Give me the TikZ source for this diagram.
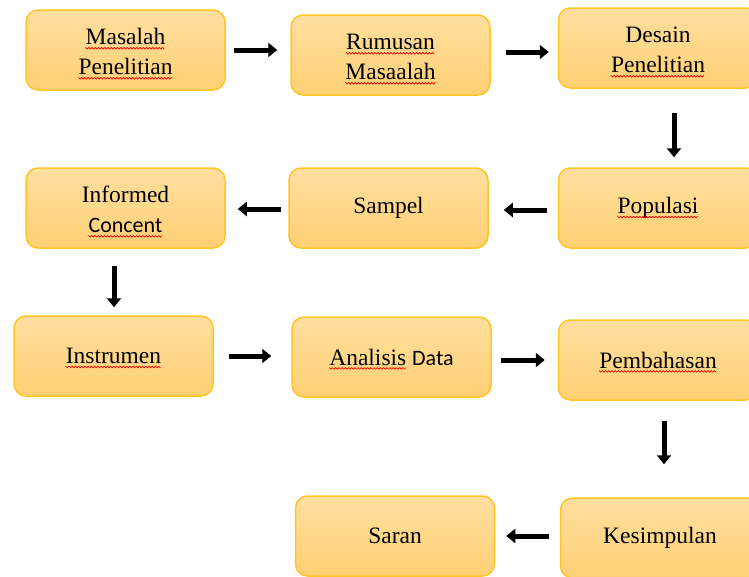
\documentclass[tikz,border=0pt]{standalone}
\usepackage{fontspec}
\setmainfont{Liberation Serif}
\newfontfamily\calib{Carlito}
\usetikzlibrary{arrows.meta}
\newdimen\wvw
\newcommand\wv[1]{%
  \setbox0=\hbox{#1}\wvw=\wd0 \leavevmode\rlap{\copy0}%
  \begin{pgfpicture}%
    \pgfpathrectangle{\pgfpointorigin}{\pgfpoint{\wvw}{0pt}}%
    \pgfusepath{use as bounding box}%
    \pgfsetbaseline{0pt}%
    \pgfsetcolor{red}\pgfsetlinewidth{0.7pt}\pgfsetroundcap
    \pgfmathtruncatemacro\wvn{\wvw/1.6}%
    \foreach \i in {1,...,\wvn}{%
      \pgfmathsetmacro\ya{mod(\i,2)==0 ? -2.6 : -4.2}%
      \pgfmathsetmacro\yb{mod(\i,2)==0 ? -4.2 : -2.6}%
      \pgfpathmoveto{\pgfpoint{(\i-1)*1.6pt}{\yb pt}}%
      \pgfpathlineto{\pgfpoint{\i*1.6pt}{\ya pt}}%
      \pgfusepath{stroke}}%
  \end{pgfpicture}}
\newcommand\tl{\rule{0pt}{20pt}}
\newcommand\calibtxt[1]{{\calib\fontsize{22}{30}\selectfont #1}}
\definecolor{boxtop}{HTML}{FFDF9F}
\definecolor{boxbot}{HTML}{FFD074}
\definecolor{boxline}{HTML}{FFC425}
\tikzset{
  box/.style={rectangle, rounded corners=12pt, draw=boxline, line width=1.5pt,
    top color=boxtop, bottom color=boxbot, minimum width=199pt, minimum height=80pt,
    align=center, font=\fontsize{23.5}{30}\selectfont, inner sep=0pt},
  arr/.style={line width=5pt, -{Triangle[length=9pt,width=14pt]}}
}
\begin{document}
\begin{tikzpicture}[x=1pt,y=-1pt]
\useasboundingbox (0,0) rectangle (749,576);
\clip (0,0) rectangle (749,576);
\node[box] (m1) at (125.5,50) {\tl\wv{Masalah}\\\wv{Penelitian}};
\node[box] (m2) at (390.5,55) {\tl\wv{Rumusan}\\\wv{Masaalah}};
\node[box] (m3) at (658,48) {\tl Desain\\\wv{Penelitian}};
\node[box] (pop) at (658,208) {\wv{Populasi}};
\node[box] (samp) at (388.5,208) {Sampel};
\node[box] (inf) at (125.5,208) {\tl Informed\\\calibtxt{\wv{Concent}}};
\node[box] (ins) at (113.5,356) {\wv{Instrumen}};
\node[box] (ana) at (391.5,357) {\wv{Analisis} \calibtxt{Data}};
\node[box] (pem) at (658,360) {\wv{Pembahasan}};
\node[box] (kes) at (660,538) {Kesimpulan};
\node[box] (sar) at (395,536) {Saran};
\draw[arr] ([xshift=8pt]m1.east) -- ([xshift=-13pt]m1.east -| m2.west);
\draw[arr] ([xshift=15pt,yshift=3pt]m2.east) -- ([xshift=-9pt,yshift=3pt]m2.east -| m3.west);
\draw[arr] ([xshift=16pt,yshift=-24pt]m3.south) -- ([xshift=16pt,yshift=10pt]pop.north);
\draw[arr] ([xshift=-11pt,yshift=-2pt]pop.west) -- ([xshift=15pt,yshift=-2pt]pop.west -| samp.east);
\draw[arr] ([xshift=-7pt,yshift=-1pt]samp.west) -- ([xshift=12pt,yshift=-1pt]samp.west -| inf.east);
\draw[arr] ([xshift=-11.5pt,yshift=-17pt]inf.south) -- ([xshift=0.5pt,yshift=8pt]ins.north);
\draw[arr] ([xshift=15pt]ins.east) -- ([xshift=-20pt]ins.east -| ana.west);
\draw[arr] ([xshift=9pt,yshift=-3pt]ana.east) -- ([xshift=-13pt,yshift=-3pt]ana.east -| pem.west);
\draw[arr] ([xshift=6pt,yshift=-20pt]pem.south) -- ([xshift=4pt,yshift=33pt]kes.north);
\draw[arr] ([xshift=-11pt]sar.east -| kes.west) -- ([xshift=11pt]sar.east);
\end{tikzpicture}
\end{document}
